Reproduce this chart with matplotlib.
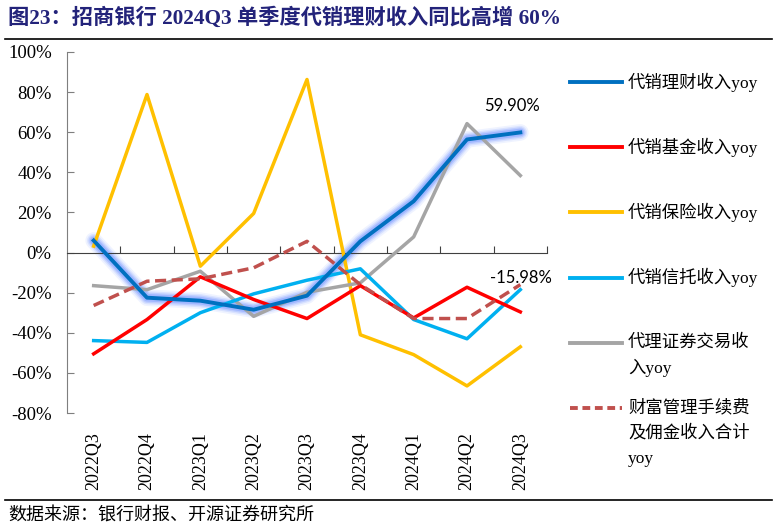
import matplotlib
matplotlib.use("Agg")
import matplotlib.pyplot as plt

# ===============================
# Datos
# ===============================
quarters = ["2022Q3", "2022Q4", "2023Q1", "2023Q2", "2023Q3",
            "2023Q4", "2024Q1", "2024Q2", "2024Q3"]

licai   = [6.0, -22.5, -24.0, -28.5, -21.5, 5.6, 25.6, 56.4, 59.9]
jijin   = [-50.5, -33.4, -12.1, -23.4, -32.9, -16.5, -32.6, -17.3, -29.6]
baoxian = [3.2, 78.8, -6.8, 19.5, 86.3, -41.0, -50.9, -66.5, -47.0]
xintuo  = [-43.9, -44.8, -30.0, -20.6, -13.8, -8.1, -33.4, -43.0, -18.5]
zhengquan = [-16.5, -18.5, -9.3, -31.8, -19.8, -15.1, 7.8, 64.3, 38.4]
caifu   = [-26.4, -14.3, -13.1, -7.6, 5.6, -16.0, -32.9, -32.9, -15.98]

legend_labels = [
    ["代销理财收入yoy"],
    ["代销基金收入yoy"],
    ["代销保险收入yoy"],
    ["代销信托收入yoy"],
    ["代理证券交易收", "入yoy"],
    ["财富管理手续费", "及佣金收入合计", "yoy"],
]

yticks = [100, 80, 60, 40, 20, 0, -20, -40, -60, -80]

c_blue = "#0070C0"
c_red = "#FF0000"
c_yel = "#FFC000"
c_cyan = "#00B0F0"
c_gray = "#A5A5A5"
c_dash = "#C0504D"

serif_cjk = ["Liberation Serif", "Noto Sans CJK SC"]
plt.rcParams["font.family"] = serif_cjk

# ===============================
# Figura
# ===============================
fig = plt.figure(figsize=(7.74, 5.30), dpi=100)
ax = fig.add_axes([67/774, 1 - 413/530, 480/774, 361/530])

x = list(range(len(quarters)))

# resplandor del trazo de 理财
for lw, a in [(12, 0.10), (9.5, 0.16), (7.5, 0.24), (5.5, 0.35)]:
    ax.plot(x, licai, color="#6A8EFF", lw=lw, alpha=a,
            solid_capstyle="round", solid_joinstyle="round", zorder=2)

ax.plot(x, baoxian, color=c_yel, lw=2.5, zorder=3)
ax.plot(x, zhengquan, color=c_gray, lw=2.5, zorder=3)
ax.plot(x, xintuo, color=c_cyan, lw=2.5, zorder=3)
ax.plot(x, jijin, color=c_red, lw=2.5, zorder=3)
ax.plot(x, caifu, color=c_dash, lw=2.5, ls=(0, (3.2, 1.6)), zorder=4)
ax.plot(x, licai, color=c_blue, lw=2.8, zorder=5)

ax.set_xlim(-0.5, 8.5)
ax.set_ylim(-80, 100)

ax.set_yticks(yticks)
ax.set_yticklabels([f"{v}%" for v in yticks], fontsize=13.5)
ax.tick_params(axis="y", direction="in", length=5, color="#7F7F7F", pad=11)

# eje X en 0 con marcas entre categorías
ax.spines["bottom"].set_position(("data", 0))
ax.spines["bottom"].set_color("#404040")
ax.set_xticks([i + 0.5 for i in range(len(quarters))])
ax.set_xticklabels([])
ax.tick_params(axis="x", direction="in", length=5, color="#404040")

for s in ["top", "right"]:
    ax.spines[s].set_visible(False)
ax.spines["left"].set_color("#7F7F7F")

sec = ax.secondary_xaxis(0.0)
sec.set_xticks(x)
sec.set_xticklabels(quarters, rotation=90, fontsize=13)
sec.tick_params(length=0, pad=14)
sec.spines["bottom"].set_visible(False)

# etiquetas de datos
ax.annotate("59.90%", xy=(8, licai[-1]), xytext=(-26, 19),
            textcoords="offset points", fontfamily="Lato", fontsize=12,
            ha="left", va="center")
ax.annotate("-15.98%", xy=(8, caifu[-1]), xytext=(-22, 5),
            textcoords="offset points", fontfamily="Lato", fontsize=12,
            ha="left", va="center")

# leyenda manual
styles = [(c_blue, "-"), (c_red, "-"), (c_yel, "-"), (c_cyan, "-"),
          (c_gray, "-"), (c_dash, (0, (2.0, 1.2)))]
for i, (lines, (col, ls)) in enumerate(zip(legend_labels, styles)):
    y0 = 1 - (82 + 65.2 * i) / 530
    fig.add_artist(plt.Line2D([570/774, 622/774], [y0, y0], color=col,
                              lw=2.8, ls=ls, transform=fig.transFigure))
    for k, t in enumerate(lines):
        fig.text(628/774, y0 - k * 25.5 / 530, t,
                 fontsize=12.5, ha="left", va="center")

# título y fuente
fig.text(8/774, 1 - 18/530, "图23：招商银行 2024Q3 单季度代销理财收入同比高增 60%",
         fontsize=15.3, fontweight="bold", color="#23237A",
         ha="left", va="center")
fig.add_artist(plt.Line2D([5/774, 772/774], [1 - 39/530, 1 - 39/530],
                          color="black", lw=1.2, transform=fig.transFigure))
fig.add_artist(plt.Line2D([5/774, 772/774], [1 - 500/530, 1 - 500/530],
                          color="black", lw=1.2, transform=fig.transFigure))
fig.text(8/774, 1 - 516/530, "数据来源：银行财报、开源证券研究所",
         fontsize=13, ha="left", va="center")

fig.savefig("out.png", dpi=100)
